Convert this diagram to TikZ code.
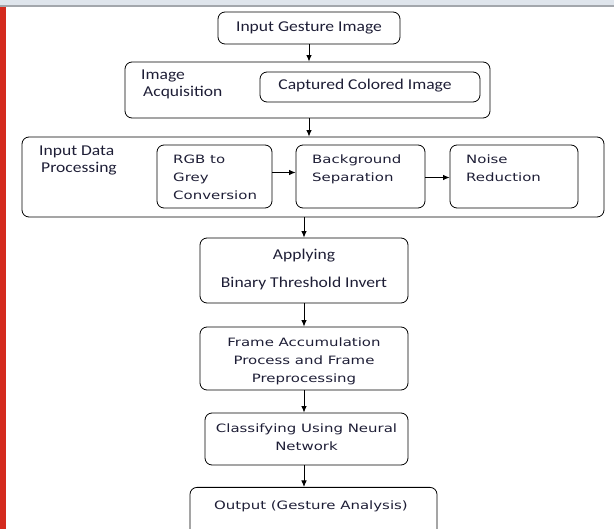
\documentclass[tikz,border=0pt]{standalone}
\usepackage{fontspec}
\setmainfont{Carlito}[FakeStretch=1.17]
\newfontfamily\verd{DejaVu Sans}[FakeStretch=1.3]
\usetikzlibrary{arrows.meta}
\definecolor{bandgrey}{HTML}{DFE5EC}
\definecolor{bandline}{HTML}{A3A7AC}
\definecolor{sidered}{HTML}{D42A1E}
\definecolor{txt}{HTML}{1E1E36}
\begin{document}
\begin{tikzpicture}[x=1pt,y=-1pt,
  box/.style={draw, line width=0.8pt, rounded corners=7pt, inner sep=0pt, align=center},
  arr/.style={-{Latex[length=6.5pt,width=5.5pt]}, line width=0.9pt},
  cal/.style={font=\fontsize{15}{17}\selectfont, text=txt},
  ver/.style={font=\verd\fontsize{11.5}{18}\selectfont, text=txt}]
\useasboundingbox (0,0) rectangle (614,529);
\fill[bandgrey] (0,0) rectangle (614,6);
\fill[bandline] (0,5.5) rectangle (614,7.5);
\fill[sidered] (0,7.5) rectangle (6,529);

% top box
\node[box, cal, minimum width=182, minimum height=32] (b1) at (309,28) {Input Gesture Image};

% image acquisition
\node[box, minimum width=365, minimum height=56] (b2) at (307.5,90) {};
\node[cal, align=left, anchor=north west, inner sep=0pt] (l2) at (141,70) {Image\\\hspace{2pt}Acquisition};
\node[box, minimum width=220, minimum height=30] (c2) at (370,87) {};
\node[cal, inner sep=0pt] (t2c) at (365,86) {Captured Colored Image};

% input data processing
\node[box, minimum width=582, minimum height=80] (b3) at (313,177) {};
\node[cal, align=left, anchor=north west, inner sep=0pt] (l3) at (39,146) {Input Data\\\hspace{2pt}Processing};
\node[box, minimum width=115, minimum height=63] (r1) at (214.5,176.5) {};
\node[ver, align=left, anchor=north west, inner sep=0pt] (t1) at (173,155) {RGB to\\Grey\\Conversion};
\node[box, minimum width=129, minimum height=63] (r2) at (360.5,176.5) {};
\node[ver, align=left, anchor=north west, inner sep=0pt] (t2) at (312,155) {Background\\Separation};
\node[box, minimum width=128, minimum height=63] (r3) at (514,176.5) {};
\node[ver, align=left, anchor=north west, inner sep=0pt] (t3) at (466,155) {Noise\\Reduction};

% lower chain
\node[box, minimum width=208, minimum height=65] (b4) at (304,270.5) {};
\node[cal, align=center, inner sep=0pt] (t4) at (304,270) {Applying\\[11pt]Binary Threshold Invert};
\node[box, minimum width=208, minimum height=63] (b5) at (304,358.5) {};
\node[ver, align=center, inner sep=0pt] (t5) at (304,361) {Frame Accumulation\\Process and Frame\\Preprocessing};
\node[box, minimum width=203, minimum height=52] (b6) at (306.5,439) {};
\node[ver, align=center, inner sep=0pt] (t6) at (306.5,437.5) {Classifying Using Neural\\Network};
\node[box, minimum width=247, minimum height=56, anchor=north] (b7) at (313.5,487) {};
\node[ver, inner sep=0pt] (t7) at (311,506) {Output (Gesture Analysis)};

% connectors
\draw[arr] (b1) -- (b1 |- b2.north);
\draw[arr] (b1 |- b2.south) -- (b1 |- b3.north);
\draw[arr] ([yshift=4pt]r1.east) -- ([yshift=4pt]r2.west);
\draw[arr] ([yshift=-1pt]r2.east) -- ([yshift=-1pt]r3.west);
\draw[arr] (b4 |- b3.south) -- (b4.north);
\draw[arr] (b4) -- (b5);
\draw[arr] (b5) -- (b5 |- b6.north);
\draw[arr] (b5 |- b6.south) -- (b5 |- b7.north);
\end{tikzpicture}
\end{document}
